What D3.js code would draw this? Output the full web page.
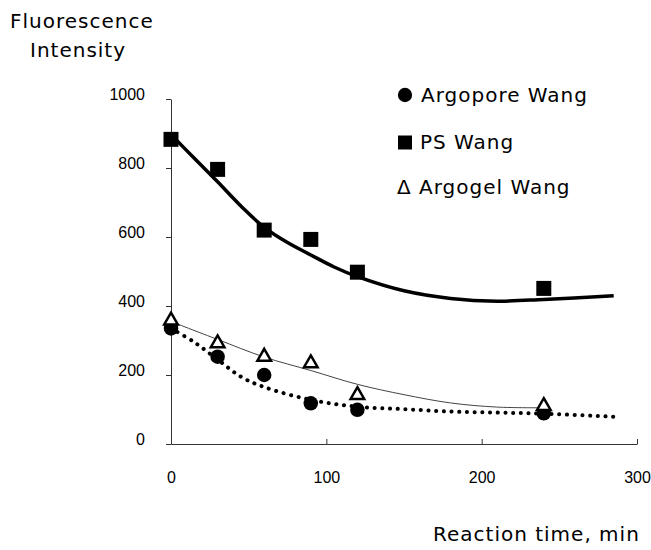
<!DOCTYPE html>
<html>
<head>
<meta charset="utf-8">
<script src="https://cdn.jsdelivr.net/npm/d3@7"></script>
<style>
  body { margin: 0; background: #fff; }
  .axis text { font-family: "Liberation Sans", Arial, sans-serif; font-size: 16px; fill: #000; }
  .axis path, .axis line { stroke: #333; }
  .label { font-family: "Comic Sans MS", "DejaVu Sans", sans-serif; font-size: 20px; letter-spacing: 1px; fill: #000; }
</style>
</head>
<body>
<svg id="chart"></svg>
<script>
// data
const times = [0, 30, 60, 90, 120, 240];
const argopore = [335, 253, 200, 118, 99, 89];
const psWang = [883, 796, 620, 593, 498, 451];
const argogel = [358, 292, 253, 234, 142, 110];

// fitted curves
const psFitX = [0, 15, 30, 45, 60, 75, 90, 105, 120, 150, 180, 210, 240, 285];
const psFitY = [897, 828, 760, 690, 628, 584, 548, 513, 485, 444, 422, 414, 419, 430];
const argogelFitX = [0, 30, 60, 90, 120, 150, 180, 210, 240];
const argogelFitY = [355, 303, 252, 213, 173, 143, 119, 107, 105];
const argoporeFitX = [0, 15, 30, 45, 60, 90, 120, 150, 180, 210, 240, 285];
const argoporeFitY = [335, 295, 245, 195, 165, 128, 108, 101, 94, 91, 88, 79];

const xTicks = [0, 100, 200, 300];
const yTicks = [0, 200, 400, 600, 800, 1000];

const width = 651;
const height = 550;

const svg = d3.select("#chart")
  .attr("width", width)
  .attr("height", height);

const x = d3.scaleLinear().domain([0, 300]).range([171, 637]);
const y = d3.scaleLinear().domain([0, 1000]).range([444, 99]);

// axes
const yAxis = d3.axisLeft(y).tickValues(yTicks).tickFormat(d3.format("d"))
  .tickSizeInner(5).tickSizeOuter(0).tickPadding(21);
svg.append("g")
  .attr("class", "axis")
  .attr("transform", `translate(${x(0)},0)`)
  .call(yAxis)
  .selectAll("text")
  .attr("y", -5);

const xAxis = d3.axisBottom(x).tickValues(xTicks).tickFormat(d3.format("d"))
  .tickSizeInner(-5).tickSizeOuter(0);
const gx = svg.append("g")
  .attr("class", "axis")
  .attr("transform", `translate(0,${y(0)})`)
  .call(xAxis);
gx.selectAll("text").attr("y", 28);

// curves
const pairs = (xs, ys) => xs.map((d, i) => [d, ys[i]]);
const line = d3.line()
  .x(d => x(d[0]))
  .y(d => y(d[1]))
  .curve(d3.curveCatmullRom);

svg.append("path")
  .attr("d", line(pairs(psFitX, psFitY)))
  .attr("fill", "none")
  .attr("stroke", "#000")
  .attr("stroke-width", 3.5);

svg.append("path")
  .attr("d", line(pairs(argogelFitX, argogelFitY)))
  .attr("fill", "none")
  .attr("stroke", "#444")
  .attr("stroke-width", 1);

svg.append("path")
  .attr("d", line(pairs(argoporeFitX, argoporeFitY)))
  .attr("fill", "none")
  .attr("stroke", "#000")
  .attr("stroke-width", 4)
  .attr("stroke-linecap", "round")
  .attr("stroke-dasharray", "0.1 7.6");

// markers
svg.selectAll(".sq")
  .data(pairs(times, psWang))
  .enter()
  .append("path")
  .attr("class", "sq")
  .attr("transform", d => `translate(${x(d[0])},${y(d[1])})`)
  .attr("d", d3.symbol(d3.symbolSquare, 225))
  .attr("fill", "#000");

svg.selectAll(".ci")
  .data(pairs(times, argopore))
  .enter()
  .append("path")
  .attr("class", "ci")
  .attr("transform", d => `translate(${x(d[0])},${y(d[1])})`)
  .attr("d", d3.symbol(d3.symbolCircle, 165))
  .attr("fill", "#000");

svg.selectAll(".tr")
  .data(pairs(times, argogel))
  .enter()
  .append("path")
  .attr("class", "tr")
  .attr("transform", d => `translate(${x(d[0])},${y(d[1])})`)
  .attr("d", d3.symbol(d3.symbolTriangle, 80))
  .attr("fill", "#fff")
  .attr("stroke", "#000")
  .attr("stroke-width", 2.5);

// legend
const legend = svg.append("g");
legend.append("path")
  .attr("transform", "translate(405,95)")
  .attr("d", d3.symbol(d3.symbolCircle, 160))
  .attr("fill", "#000");
legend.append("text").attr("class", "label").attr("x", 421).attr("y", 102).text("Argopore Wang");
legend.append("path")
  .attr("transform", "translate(405,142.5)")
  .attr("d", d3.symbol(d3.symbolSquare, 196))
  .attr("fill", "#000");
legend.append("text").attr("class", "label").attr("x", 420).attr("y", 149).text("PS Wang");
legend.append("text").attr("class", "label").attr("x", 397).attr("y", 194).text("\u0394 Argogel Wang");

// axis titles
svg.append("text").attr("class", "label").attr("x", 10).attr("y", 28).text("Fluorescence");
svg.append("text").attr("class", "label").attr("x", 30).attr("y", 57).text("Intensity");
svg.append("text").attr("class", "label").attr("x", 433).attr("y", 541).text("Reaction time, min");
</script>
</body>
</html>
